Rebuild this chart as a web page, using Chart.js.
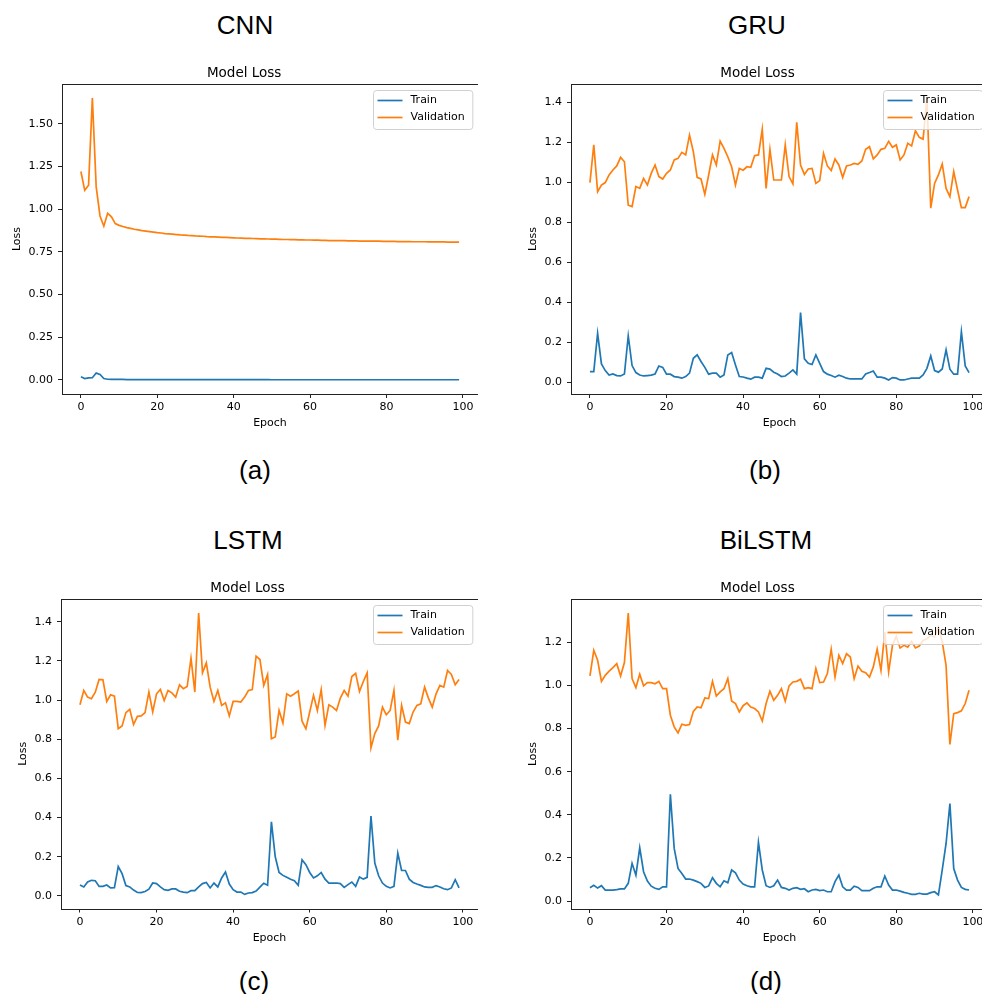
<!DOCTYPE html>
<html>
<head>
<meta charset="utf-8">
<script src="https://cdn.jsdelivr.net/npm/chart.js@4.4.0/dist/chart.umd.min.js"></script>
<style>
html, body { margin: 0; padding: 0; background: #fff; overflow: hidden; width: 982px; height: 994px; }
canvas { position: absolute; }
.big { position: absolute; font-family: "Liberation Sans", Arial, sans-serif; font-size: 26px; line-height: 26px;
       color: #000; transform: translate(-50%, -50%); white-space: nowrap; }
</style>
</head>
<body>
<script>
// ---- data ----
var modelNames = ["CNN", "GRU", "LSTM", "BiLSTM"];
var panelTags = ["(a)", "(b)", "(c)", "(d)"];
var seriesNames = ["Train", "Validation"];
var epochs = Array.from({length: 100}, function (_, i) { return i; });
var epochTicks = [0, 20, 40, 60, 80, 100];

var cnnTrain = [0.018,0.008,0.012,0.013,0.040,0.032,0.008,0.004,0.003,0.003,
  0.003,0.003,0.002,0.002,0.002,0.002,0.002,0.002,0.002,0.002,
  0.002,0.002,0.002,0.002,0.002,0.002,0.002,0.002,0.002,0.002,
  0.002,0.002,0.002,0.002,0.002,0.002,0.002,0.002,0.002,0.002,
  0.002,0.002,0.002,0.002,0.002,0.002,0.002,0.002,0.002,0.002,
  0.001,0.001,0.001,0.001,0.001,0.001,0.001,0.001,0.001,0.001,
  0.001,0.001,0.001,0.001,0.001,0.001,0.001,0.001,0.001,0.001,
  0.001,0.001,0.001,0.001,0.001,0.001,0.001,0.001,0.001,0.001,
  0.001,0.001,0.001,0.001,0.001,0.001,0.001,0.001,0.001,0.001,
  0.001,0.001,0.001,0.001,0.001,0.001,0.001,0.001,0.001,0.001];
var cnnVal = [1.22,1.11,1.14,1.65,1.13,0.96,0.90,0.975,0.955,0.915,
  0.905,0.898,0.892,0.887,0.882,0.878,0.874,0.871,0.868,0.865,
  0.862,0.860,0.857,0.855,0.853,0.851,0.849,0.848,0.846,0.845,
  0.843,0.842,0.841,0.839,0.838,0.837,0.836,0.835,0.834,0.833,
  0.832,0.831,0.830,0.829,0.829,0.828,0.827,0.826,0.826,0.825,
  0.824,0.824,0.823,0.822,0.822,0.821,0.821,0.820,0.820,0.819,
  0.819,0.818,0.818,0.817,0.817,0.816,0.816,0.816,0.815,0.815,
  0.814,0.814,0.814,0.813,0.813,0.813,0.812,0.812,0.812,0.811,
  0.811,0.811,0.811,0.810,0.810,0.810,0.810,0.809,0.809,0.809,
  0.809,0.808,0.808,0.808,0.808,0.808,0.807,0.807,0.807,0.807];

var gruTrain = [0.055,0.055,0.246,0.093,0.060,0.038,0.043,0.035,0.033,0.043,
  0.233,0.085,0.050,0.038,0.033,0.035,0.037,0.043,0.083,0.076,
  0.042,0.042,0.030,0.027,0.022,0.030,0.047,0.121,0.138,0.105,
  0.076,0.042,0.047,0.047,0.027,0.038,0.138,0.150,0.088,0.030,
  0.028,0.022,0.017,0.027,0.027,0.022,0.071,0.067,0.052,0.043,
  0.030,0.033,0.047,0.063,0.042,0.349,0.118,0.096,0.090,0.138,
  0.096,0.055,0.042,0.035,0.027,0.037,0.030,0.022,0.018,0.018,
  0.018,0.018,0.043,0.050,0.058,0.027,0.027,0.022,0.013,0.025,
  0.022,0.013,0.013,0.018,0.022,0.022,0.022,0.038,0.071,0.133,
  0.060,0.052,0.068,0.163,0.067,0.042,0.042,0.254,0.083,0.050];
var gruVal = [0.998,1.186,0.953,0.986,0.998,1.036,1.061,1.081,1.124,1.102,
  0.885,0.878,0.978,0.969,1.019,0.986,1.044,1.086,1.028,1.016,
  1.044,1.061,1.111,1.119,1.149,1.136,1.235,1.152,1.024,1.016,
  0.939,1.036,1.136,1.086,1.205,1.169,1.127,1.077,0.986,1.069,
  1.060,1.077,1.074,1.132,1.136,1.264,0.969,1.164,1.011,1.011,
  1.011,1.186,1.028,0.991,1.299,1.086,1.039,1.066,1.069,0.994,
  1.008,1.144,1.081,1.058,1.116,1.086,1.024,1.081,1.086,1.094,
  1.089,1.106,1.164,1.177,1.116,1.136,1.164,1.169,1.204,1.174,
  1.186,1.111,1.136,1.194,1.181,1.257,1.224,1.215,1.420,0.870,
  0.994,1.036,1.091,0.969,0.928,1.053,0.961,0.873,0.873,0.928];

var lstmTrain = [0.056,0.046,0.071,0.080,0.078,0.049,0.049,0.056,0.041,0.042,
  0.150,0.114,0.053,0.046,0.030,0.018,0.017,0.023,0.035,0.066,
  0.063,0.046,0.032,0.029,0.036,0.036,0.024,0.020,0.017,0.027,
  0.027,0.046,0.063,0.069,0.041,0.066,0.046,0.092,0.122,0.061,
  0.032,0.020,0.020,0.008,0.015,0.017,0.025,0.045,0.065,0.055,
  0.378,0.200,0.120,0.105,0.095,0.085,0.078,0.055,0.185,0.160,
  0.120,0.092,0.103,0.120,0.086,0.066,0.066,0.066,0.063,0.044,
  0.058,0.071,0.049,0.097,0.086,0.095,0.408,0.168,0.103,0.066,
  0.049,0.041,0.049,0.219,0.130,0.130,0.086,0.069,0.061,0.054,
  0.046,0.044,0.044,0.053,0.046,0.037,0.032,0.041,0.083,0.041];
var lstmVal = [0.976,1.049,1.015,1.007,1.040,1.105,1.103,0.993,1.027,1.020,
  0.854,0.868,0.936,0.953,0.875,0.917,0.919,0.936,1.041,0.939,
  1.032,1.054,0.998,1.049,1.037,1.015,1.078,1.058,1.069,1.214,
  1.041,1.444,1.139,1.190,1.066,0.993,1.049,0.973,0.986,0.919,
  0.993,0.993,0.990,1.015,1.049,1.054,1.224,1.207,1.075,1.131,
  0.803,0.812,0.947,0.883,1.032,1.020,1.032,1.046,0.892,0.854,
  0.939,1.024,0.947,1.053,0.871,0.976,0.964,0.947,1.010,1.049,
  1.020,1.120,1.137,1.044,1.095,1.139,0.756,0.829,0.868,0.964,
  0.925,0.947,1.049,0.795,0.973,0.888,0.880,0.939,0.973,0.981,
  1.066,1.010,0.964,1.032,1.075,1.066,1.151,1.131,1.078,1.105];

var bilstmTrain = [0.062,0.073,0.060,0.071,0.051,0.051,0.051,0.053,0.056,0.056,
  0.082,0.175,0.120,0.247,0.136,0.093,0.069,0.059,0.054,0.066,
  0.066,0.495,0.244,0.151,0.128,0.102,0.102,0.097,0.090,0.082,
  0.063,0.070,0.108,0.082,0.066,0.094,0.085,0.144,0.131,0.097,
  0.079,0.071,0.066,0.066,0.272,0.144,0.071,0.063,0.071,0.097,
  0.063,0.059,0.051,0.059,0.062,0.054,0.057,0.043,0.051,0.054,
  0.048,0.051,0.043,0.043,0.090,0.120,0.066,0.051,0.051,0.069,
  0.063,0.048,0.048,0.048,0.059,0.066,0.066,0.116,0.074,0.051,
  0.051,0.046,0.040,0.036,0.031,0.031,0.036,0.032,0.032,0.039,
  0.043,0.028,0.144,0.267,0.452,0.151,0.097,0.063,0.054,0.051];
var bilstmVal = [1.044,1.163,1.117,1.019,1.047,1.066,1.083,1.101,1.044,1.106,
  1.336,1.032,0.990,1.052,0.998,1.013,1.013,1.008,1.019,0.985,
  0.985,0.862,0.808,0.780,0.820,0.815,0.819,0.880,0.900,0.896,
  0.942,0.939,1.019,0.951,0.970,0.985,1.032,0.928,0.916,0.877,
  0.906,0.919,0.900,0.893,0.877,0.835,0.916,0.973,0.931,0.954,
  0.985,0.927,0.998,1.016,1.019,1.029,0.985,0.990,0.985,1.078,
  1.013,1.016,1.055,1.168,1.039,1.140,1.101,1.147,1.132,1.032,
  1.090,1.066,1.059,1.039,1.086,1.168,1.070,1.248,1.063,1.186,
  1.228,1.174,1.186,1.178,1.205,1.174,1.183,1.209,1.217,1.232,
  1.225,1.271,1.202,1.093,0.726,0.869,0.874,0.882,0.916,0.978];

var lossTicks = [
  [0, 0.25, 0.5, 0.75, 1.0, 1.25, 1.5],
  [0, 0.2, 0.4, 0.6, 0.8, 1.0, 1.2, 1.4],
  [0, 0.2, 0.4, 0.6, 0.8, 1.0, 1.2, 1.4],
  [0, 0.2, 0.4, 0.6, 0.8, 1.0, 1.2]
];
var tickDecimals = [2, 1, 1, 1];
var lossRanges = [[-0.0825, 1.7325], [-0.057, 1.49], [-0.064, 1.516], [-0.037, 1.401]];
var epochRange = [-4.95, 103.95];

var trainSets = [cnnTrain, gruTrain, lstmTrain, bilstmTrain];
var valSets = [cnnVal, gruVal, lstmVal, bilstmVal];

// ---- layout of the 2x2 figure ----
var frames = [
  {l: 62,  t: 84,  r: 478, b: 394,   lossX: 16.9,  titleY: 73.6,  epochY: 423},
  {l: 571, t: 84,  r: 988, b: 394,   lossX: 533.5, titleY: 73.6,  epochY: 423},
  {l: 61,  t: 599, r: 478, b: 908.5, lossX: 23.5,  titleY: 588.6, epochY: 938},
  {l: 571, t: 599, r: 988, b: 909,   lossX: 533.5, titleY: 588.6, epochY: 938}
];
var bigLabels = [
  {x: 245, y: 25}, {x: 757, y: 25}, {x: 248, y: 540}, {x: 766, y: 540}
];
var tagLabels = [
  {x: 255, y: 470}, {x: 765, y: 470}, {x: 254, y: 981}, {x: 766, y: 981}
];
var colors = ["#1f77b4", "#ff7f0e"];
var txtFont = "DejaVu Sans";

// frame around the plot area + matplotlib-like legend
var boxAndLegend = {
  id: "boxAndLegend",
  afterDatasetsDraw: function (chart) {
    var ctx = chart.ctx, a = chart.chartArea;
    ctx.save();
    ctx.strokeStyle = "#222";
    ctx.lineWidth = 1;
    ctx.strokeRect(Math.round(a.left) + 0.5, Math.round(a.top) + 0.5,
                   Math.round(a.right - a.left), Math.round(a.bottom - a.top));

    ctx.font = "11px '" + txtFont + "'";
    var sets = chart.data.datasets, tw = 0;
    sets.forEach(function (s) { tw = Math.max(tw, ctx.measureText(s.label).width); });
    var w = 4 + 25 + 8 + tw + 8, h = 39;
    var x = Math.round(a.right - 6 - w) + 0.5, y = Math.round(a.top + 6) + 0.5, rr = 3;
    ctx.beginPath();
    ctx.moveTo(x + rr, y);
    ctx.lineTo(x + w - rr, y); ctx.quadraticCurveTo(x + w, y, x + w, y + rr);
    ctx.lineTo(x + w, y + h - rr); ctx.quadraticCurveTo(x + w, y + h, x + w - rr, y + h);
    ctx.lineTo(x + rr, y + h); ctx.quadraticCurveTo(x, y + h, x, y + h - rr);
    ctx.lineTo(x, y + rr); ctx.quadraticCurveTo(x, y, x + rr, y);
    ctx.closePath();
    ctx.fillStyle = "rgba(255,255,255,0.8)";
    ctx.fill();
    ctx.strokeStyle = "#d0d0d0";
    ctx.stroke();

    sets.forEach(function (s, k) {
      var cy = y + 10 + k * 17;
      ctx.beginPath();
      ctx.strokeStyle = s.borderColor;
      ctx.lineWidth = 1.7;
      ctx.moveTo(x + 4, cy); ctx.lineTo(x + 29, cy);
      ctx.stroke();
      ctx.fillStyle = "#000";
      ctx.textBaseline = "middle";
      ctx.textAlign = "left";
      ctx.fillText(s.label, x + 37, cy);
    });
    ctx.restore();
  }
};

function addText(txt, pos) {
  var d = document.createElement("div");
  d.className = "big";
  d.textContent = txt;
  d.style.left = pos.x + "px";
  d.style.top = pos.y + "px";
  document.body.appendChild(d);
}

function makePanel(i) {
  var f = frames[i];
  var scaleLeft = f.lossX - 6.6;
  var cLeft = Math.floor(scaleLeft);
  var titleTop = f.titleY - 8.1;
  var cTop = Math.floor(titleTop);
  var cRight = Math.ceil(f.r);
  var bottom = f.epochY + 6.6;
  var cBottom = Math.ceil(bottom);

  var cv = document.createElement("canvas");
  cv.width = cRight - cLeft;
  cv.height = cBottom - cTop;
  cv.style.left = cLeft + "px";
  cv.style.top = cTop + "px";
  cv.style.width = cv.width + "px";
  cv.style.height = cv.height + "px";
  document.body.appendChild(cv);

  var yWidth = f.l - scaleLeft;
  var xHeight = bottom - f.b;
  var titlePad = f.t - titleTop - 16.2;
  var tickFont = {family: txtFont, size: 11};

  new Chart(cv, {
    type: "line",
    data: {
      datasets: [
        {label: seriesNames[0], data: epochs.map(function (e, k) { return {x: e, y: trainSets[i][k]}; }),
         borderColor: colors[0], backgroundColor: colors[0]},
        {label: seriesNames[1], data: epochs.map(function (e, k) { return {x: e, y: valSets[i][k]}; }),
         borderColor: colors[1], backgroundColor: colors[1]}
      ]
    },
    options: {
      responsive: false,
      animation: false,
      devicePixelRatio: 1,
      layout: {padding: {left: scaleLeft - cLeft, top: titleTop - cTop, right: cRight - f.r, bottom: cBottom - bottom}},
      elements: {line: {borderWidth: 1.7, tension: 0, fill: false}, point: {radius: 0}},
      plugins: {
        legend: {display: false},
        tooltip: {enabled: false},
        title: {display: true, text: "Model Loss", color: "#000",
                font: {family: txtFont, size: 13.5, weight: "normal", lineHeight: 1.2},
                padding: {top: 0, bottom: titlePad}}
      },
      scales: {
        x: {
          type: "linear", min: epochRange[0], max: epochRange[1], bounds: "data",
          afterBuildTicks: function (s) { s.ticks = epochTicks.map(function (v) { return {value: v}; }); },
          afterFit: function (s) { s.height = xHeight; },
          ticks: {font: tickFont, color: "#000", padding: 3, maxRotation: 0, autoSkip: false,
                  callback: function (v) { return String(v); }},
          grid: {drawOnChartArea: false, drawTicks: true, tickLength: 4, color: "#222"},
          border: {display: false},
          title: {display: true, text: "Epoch", font: tickFont, color: "#000", padding: 0}
        },
        y: {
          type: "linear", min: lossRanges[i][0], max: lossRanges[i][1], bounds: "data",
          afterBuildTicks: function (s) { s.ticks = lossTicks[i].map(function (v) { return {value: v}; }); },
          afterFit: function (s) { s.width = yWidth; },
          ticks: {font: tickFont, color: "#000", padding: 5, autoSkip: false,
                  callback: function (v) { return Number(v).toFixed(tickDecimals[i]); }},
          grid: {drawOnChartArea: false, drawTicks: true, tickLength: 4, color: "#222"},
          border: {display: false},
          title: {display: true, text: "Loss", font: tickFont, color: "#000", padding: 0}
        }
      }
    },
    plugins: [boxAndLegend]
  });

  addText(modelNames[i], bigLabels[i]);
  addText(panelTags[i], tagLabels[i]);
}

for (var i = 0; i < 4; i++) makePanel(i);
</script>
</body>
</html>
